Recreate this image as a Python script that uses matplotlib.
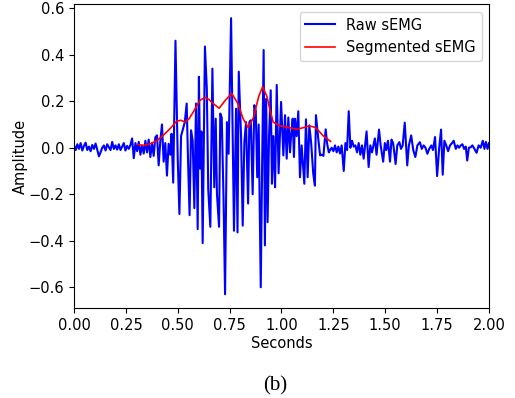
import numpy as np
import matplotlib
matplotlib.use('Agg')
from matplotlib import pyplot as plt

plt.rcParams['font.size'] = 10.5

# raw sEMG (seconds, amplitude)
raw_t = [0.000, 0.008, 0.016, 0.024, 0.032, 0.040, 0.048, 0.056, 0.064, 0.072,
         0.080, 0.088, 0.096, 0.104, 0.112, 0.120, 0.128, 0.136, 0.144, 0.152,
         0.160, 0.168, 0.176, 0.184, 0.192,
         0.200, 0.208, 0.216, 0.224, 0.232, 0.240, 0.248, 0.256, 0.264, 0.272,
         0.280, 0.288, 0.296, 0.304, 0.312, 0.320, 0.328, 0.336, 0.344, 0.352,
         0.360, 0.368, 0.376, 0.384, 0.392,
         0.400, 0.408, 0.416, 0.424, 0.432, 0.440, 0.448, 0.456, 0.464, 0.470,
         0.478, 0.489, 0.500, 0.508, 0.516, 0.528, 0.534, 0.543, 0.550, 0.557,
         0.564, 0.572, 0.580, 0.588, 0.596, 0.602, 0.608, 0.614, 0.620, 0.631,
         0.640, 0.647, 0.657, 0.667, 0.676, 0.683, 0.689, 0.699, 0.705, 0.712,
         0.721, 0.728, 0.737, 0.745, 0.757, 0.764, 0.771, 0.781, 0.788, 0.794,
         0.805, 0.813, 0.821, 0.829, 0.839, 0.845, 0.852, 0.861, 0.869, 0.876,
         0.883, 0.890, 0.900, 0.907, 0.914, 0.920, 0.926, 0.933, 0.940, 0.948,
         0.954, 0.960, 0.965, 0.969, 0.977, 0.986, 0.998, 1.009, 1.017, 1.025,
         1.033, 1.041, 1.047, 1.054, 1.060, 1.065, 1.073, 1.081, 1.089, 1.097,
         1.110, 1.118, 1.126, 1.134, 1.143, 1.153, 1.161, 1.166, 1.177, 1.186,
         1.194, 1.202, 1.213, 1.220, 1.228, 1.234, 1.242, 1.250, 1.258, 1.266,
         1.274, 1.282, 1.290, 1.300, 1.308, 1.316, 1.324, 1.332, 1.340, 1.348,
         1.356, 1.364, 1.372, 1.380, 1.388, 1.396, 1.410, 1.420, 1.428, 1.436,
         1.450, 1.458, 1.470, 1.478, 1.490, 1.498, 1.505, 1.513, 1.523, 1.530,
         1.538, 1.550, 1.558, 1.568, 1.576, 1.584, 1.594, 1.606, 1.614, 1.625,
         1.635, 1.645, 1.655, 1.667, 1.676, 1.685, 1.694, 1.703, 1.712, 1.722,
         1.730, 1.740, 1.750, 1.760, 1.769, 1.777, 1.785, 1.794, 1.803, 1.812,
         1.822, 1.830, 1.840, 1.848, 1.856, 1.864, 1.872, 1.880, 1.888, 1.895,
         1.903, 1.912, 1.920, 1.930, 1.940, 1.950, 1.960, 1.970, 1.978, 1.985,
         1.993, 2.000]
raw_v = [0.010, -0.010, 0.015, -0.005, 0.020, -0.012, 0.008, 0.022, -0.010, 0.005,
         -0.015, 0.012, -0.005, 0.018, -0.008, -0.037, -0.020, 0.000, 0.010, -0.012,
         0.015, 0.002, -0.010, 0.025, -0.005,
         0.010, -0.008, 0.015, -0.010, 0.005, 0.020, -0.012, 0.008, -0.005, 0.012,
         0.040, -0.045, 0.020, -0.015, 0.025, -0.030, 0.010, -0.025, 0.030, -0.020,
         0.035, -0.040, 0.020, -0.035, 0.045,
         0.053, -0.076, 0.030, 0.100, -0.060, 0.020, -0.120, 0.017, -0.030, 0.060,
         -0.150, 0.460, -0.050, -0.285, 0.050, 0.090, 0.110, 0.190, -0.070, -0.290,
         0.075, 0.030, -0.260, 0.190, -0.350, 0.305, -0.090, 0.070, -0.410, 0.435,
         0.255, -0.180, -0.340, 0.340, -0.170, 0.125, -0.200, -0.340, 0.147, 0.130,
         -0.235, -0.630, 0.110, -0.026, 0.557, 0.100, -0.357, 0.168, -0.364, 0.327,
         0.053, -0.335, 0.024, 0.110, -0.240, 0.110, 0.118, -0.200, 0.183, 0.160,
         -0.127, 0.100, -0.600, -0.050, 0.420, -0.420, 0.210, -0.320, 0.050, 0.247,
         -0.155, 0.050, -0.060, -0.170, 0.270, -0.110, 0.197, -0.033, 0.140, -0.047,
         0.130, -0.020, 0.060, 0.125, -0.040, 0.125, 0.050, 0.157, -0.127, 0.010,
         -0.155, 0.122, -0.127, 0.096, 0.020, -0.112, -0.163, 0.140, 0.040, -0.033,
         -0.030, -0.035, 0.079, 0.017, -0.020, -0.010, 0.000, -0.015, 0.010, -0.020,
         0.005, -0.025, 0.010, -0.100, 0.020, -0.010, 0.157, 0.000, 0.030, 0.005,
         0.010, -0.020, 0.020, -0.030, 0.010, -0.047, 0.070, -0.083, 0.010, -0.020,
         0.040, -0.030, 0.078, 0.010, -0.060, 0.020, -0.010, 0.030, -0.060, 0.035,
         0.020, -0.070, 0.010, 0.024, -0.005, 0.010, 0.108, -0.076, 0.010, 0.053,
         -0.010, -0.040, 0.010, 0.024, -0.005, 0.010, 0.000, -0.026, -0.005, 0.010,
         -0.010, 0.046, -0.122, 0.000, 0.078, -0.116, 0.030, 0.010, -0.015, 0.010,
         0.020, 0.030, -0.005, 0.010, 0.000, 0.010, 0.015, -0.005, 0.005, -0.055,
         0.000, 0.002, 0.010, -0.005, -0.022, 0.010, 0.000, 0.030, -0.005, 0.025,
         -0.005, 0.020]

# segmented envelope
seg_t = [0.307, 0.330, 0.350, 0.375, 0.398, 0.430, 0.463, 0.495, 0.515, 0.535,
         0.555, 0.575, 0.607, 0.631, 0.650, 0.670, 0.700, 0.730, 0.760, 0.790,
         0.815, 0.840, 0.865, 0.890, 0.909, 0.930, 0.945, 0.960, 0.993, 1.030,
         1.073, 1.100, 1.134, 1.160, 1.177, 1.200, 1.237]
seg_v = [0.014, 0.010, 0.012, 0.020, 0.030, 0.053, 0.082, 0.114, 0.118, 0.110,
         0.125, 0.154, 0.204, 0.216, 0.208, 0.190, 0.170, 0.205, 0.233, 0.190,
         0.125, 0.086, 0.130, 0.220, 0.262, 0.220, 0.160, 0.110, 0.094, 0.088,
         0.079, 0.085, 0.094, 0.088, 0.075, 0.052, 0.027]

fig = plt.figure(figsize=(5.15, 3.98), dpi=100)
ax = fig.add_axes([0.1437, 0.226, 0.8058, 0.763])
ax.plot(raw_t, raw_v, 'b', lw=1.5, label='Raw sEMG')
ax.plot(seg_t, seg_v, 'r', lw=1.2, label='Segmented sEMG')
ax.set_xlim(0, 2)
ax.set_xticks(np.arange(0, 2.01, 0.25))
ax.set_yticks([-0.6, -0.4, -0.2, 0.0, 0.2, 0.4, 0.6])
ax.set_xlabel('Seconds', labelpad=2)
ax.set_ylabel('Amplitude', labelpad=0.5)
ax.legend(loc='upper right')

fig.text(0.534, 0.031, '(b)', ha='center', va='center', fontsize=15,
         family='Liberation Serif')

plt.savefig('out.png', dpi=100)
